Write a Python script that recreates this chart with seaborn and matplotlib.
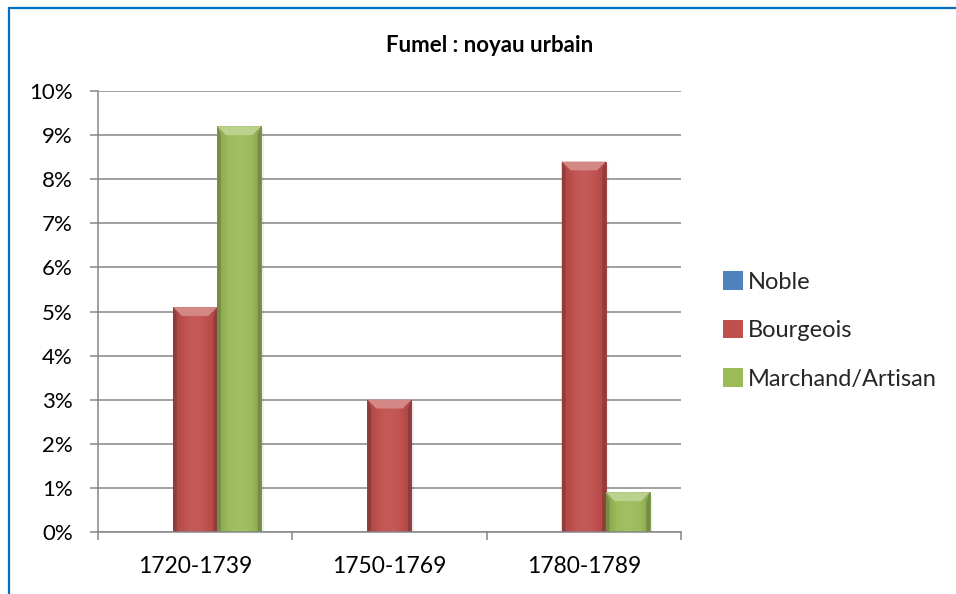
import numpy as np
import pandas as pd
import matplotlib
matplotlib.use("Agg")
import matplotlib.pyplot as plt
import matplotlib.colors as mcolors
from matplotlib.patches import Polygon
from matplotlib.lines import Line2D
from matplotlib.ticker import FixedLocator, PercentFormatter
import seaborn as sns

# Data
periods = ["1720-1739", "1750-1769", "1780-1789"]
groups = ["Noble", "Bourgeois", "Marchand/Artisan"]
noble = [0.0, 0.0, 0.0]
bourgeois = [5.1, 3.0, 8.4]
marchand = [9.2, 0.0, 0.9]
y_ticks = [0, 1, 2, 3, 4, 5, 6, 7, 8, 9, 10]
title = "Fumel : noyau urbain"

palette = {"Noble": "#4F81BD", "Bourgeois": "#C0504D", "Marchand/Artisan": "#9BBB59"}

df = pd.DataFrame({
    "period": periods * 3,
    "group": [g for g in groups for _ in periods],
    "value": noble + bourgeois + marchand,
})

sns.set_theme(style="white")
plt.rcParams["font.family"] = ["Lato", "DejaVu Sans"]

fig = plt.figure(figsize=(9.56, 5.94), dpi=100)
ax = fig.add_axes([98 / 956, 1 - 532 / 594, (681 - 98) / 956, (532 - 91) / 594])

sns.barplot(data=df, x="period", y="value", hue="group", hue_order=groups,
            order=periods, palette=palette, width=0.68, saturation=1,
            linewidth=0, ax=ax)

ax.set_xlim(-0.5, 2.5)
ax.set_ylim(0, 10)
ax.set_xlabel("")
ax.set_ylabel("")

# Bevelled look for every bar
def shade(c, f):
    r, g, b = mcolors.to_rgb(c)
    if f >= 0:
        return (r + (1 - r) * f, g + (1 - g) * f, b + (1 - b) * f)
    return (r * (1 + f), g * (1 + f), b * (1 + f))

for container, g in zip(ax.containers, groups):
    base = palette[g]
    for p in container:
        x0, w, h = p.get_x(), p.get_width(), p.get_height()
        if h <= 0:
            continue
        z = p.get_zorder()
        # soft shadow on the right
        ax.add_patch(Polygon([(x0 + w, 0), (x0 + w * 1.06, 0), (x0 + w * 1.06, h - 0.1), (x0 + w, h)],
                             closed=True, facecolor=(0, 0, 0, 0.07), edgecolor="none", zorder=z - 0.1))
        # horizontal gradient: darker edges, lighter middle
        grad = np.linspace(-1, 1, 64)
        prof = 1 - grad ** 2
        cols = np.array([shade(base, -0.16 + 0.22 * v) for v in prof])[None, :, :]
        im = ax.imshow(cols, extent=(x0, x0 + w, 0, h), aspect="auto",
                       interpolation="bilinear", zorder=z + 0.1)
        im.set_clip_path(p)
        # top bevel
        dx = w * 0.2
        dy = min(h * 0.5, 0.2)
        ax.add_patch(Polygon([(x0, h), (x0 + w, h), (x0 + w - dx, h - dy), (x0 + dx, h - dy)],
                             closed=True, facecolor=shade(base, 0.32), edgecolor="none",
                             zorder=z + 0.2))
        # side bevels
        ax.add_patch(Polygon([(x0, h), (x0 + dx * 0.4, h - dy), (x0 + dx * 0.4, 0), (x0, 0)],
                             closed=True, facecolor=shade(base, -0.25), edgecolor="none",
                             zorder=z + 0.2))
        ax.add_patch(Polygon([(x0 + w, h), (x0 + w - dx * 0.4, h - dy), (x0 + w - dx * 0.4, 0), (x0 + w, 0)],
                             closed=True, facecolor=shade(base, -0.25), edgecolor="none",
                             zorder=z + 0.2))

# Axes styling
grid_c = "#868686"
ax.yaxis.set_major_locator(FixedLocator(y_ticks))
ax.yaxis.set_major_formatter(PercentFormatter(decimals=0))
ax.grid(axis="y", color=grid_c, linewidth=1.1, zorder=0)
ax.set_axisbelow(True)
for s in ["top", "right"]:
    ax.spines[s].set_visible(False)
for s in ["left", "bottom"]:
    ax.spines[s].set_color(grid_c)
    ax.spines[s].set_linewidth(1.1)

ax.set_xticks(range(len(periods)))
ax.set_xticklabels(periods)
ax.set_xticks([-0.5, 0.5, 1.5, 2.5], minor=True)
ax.tick_params(axis="x", which="major", length=0, pad=17, labelsize=16.5, labelcolor="black")
ax.tick_params(axis="x", which="minor", length=6, width=1.1, color=grid_c, direction="out", bottom=True)
ax.tick_params(axis="y", length=6, width=1.1, color=grid_c, direction="out", left=True,
               pad=12, labelsize=16, labelcolor="black")

fig.text(490 / 956, 1 - 45 / 594, title, fontsize=16, fontweight="bold",
         color="black", ha="center", va="center")

handles, labels = ax.get_legend_handles_labels()
leg = ax.legend(handles, labels, loc="center left", bbox_to_anchor=((723 - 98) / 583, 0.457),
                frameon=False, fontsize=17, handlelength=0.85, handleheight=0.85,
                handletextpad=0.2, labelspacing=1.15, borderpad=0, borderaxespad=0)

# Chart frame lines
fig.add_artist(Line2D([9 / 956, 9 / 956], [0, 1 - 8 / 594], color="#0070C0", linewidth=1.6))
fig.add_artist(Line2D([9 / 956, 1], [1 - 8 / 594, 1 - 8 / 594], color="#0070C0", linewidth=1.6))

fig.savefig("out.png", dpi=100)
